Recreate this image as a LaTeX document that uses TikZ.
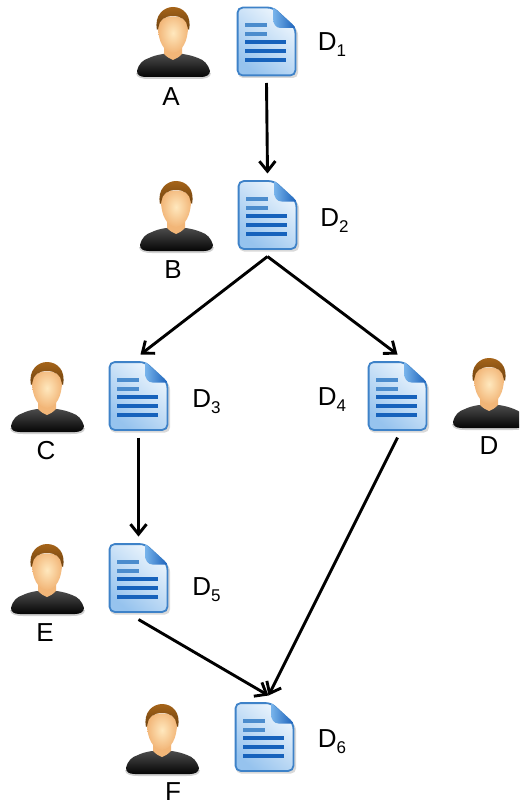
\documentclass[tikz,border=0pt]{standalone}
\usepackage{fontspec}
\setmainfont{Liberation Sans}
\usetikzlibrary{arrows.meta}
\definecolor{docedge}{RGB}{62,130,200}
\definecolor{docline}{RGB}{22,98,188}
\definecolor{docshort}{RGB}{75,140,205}
\definecolor{docpale}{RGB}{238,246,253}
\definecolor{docfill}{RGB}{150,195,238}
\definecolor{foldA}{RGB}{120,180,235}
\definecolor{foldB}{RGB}{25,95,185}
\definecolor{hairA}{RGB}{165,100,25}
\definecolor{hairB}{RGB}{110,65,15}
\definecolor{faceA}{RGB}{255,232,190}
\definecolor{faceB}{RGB}{242,182,120}
\definecolor{bodyA}{RGB}{75,75,75}
\definecolor{bodyB}{RGB}{5,5,5}
\tikzset{
  x=1pt,y=-1pt,
  docbox/.style={minimum width=59pt,minimum height=69pt,inner sep=0pt,outer ysep=7pt,outer xsep=0pt},
  flow/.style={line width=2.9pt,-{Straight Barb[length=10pt,width=16pt,line width=2.9pt]}},
  lab/.style={inner sep=0pt,font=\fontsize{26}{26}\selectfont},
  pics/docicon/.style={code={
    \fill[black,opacity=.15,rounded corners=5pt] (1,2) -- (36,2) -- (61,23) -- (61,71) -- (1,71) -- cycle;
    \shade[left color=docpale,right color=docfill,shading angle=-40,draw=docedge,line width=1.8pt,rounded corners=5pt]
      (0.6,0.6) -- (36,0.6) -- (58.4,21) -- (58.4,68.4) -- (0.6,68.4) -- cycle;
    \shade[left color=foldA,right color=foldB,rounded corners=1.5pt]
      (36,0) -- (59,21) -- (45,21) .. controls (39,21) and (36,17) .. (36,10) -- cycle;
    \fill[docshort] (8,16.5) rectangle (30,20);
    \fill[docshort] (8,25.5) rectangle (30,29);
    \fill[docline] (8,33.5) rectangle (49,37.5);
    \fill[docline] (8,42.5) rectangle (49,46.5);
    \fill[docline] (8,51) rectangle (49,55);
  }},
  pics/personicon/.style={code={
    \fill[black,opacity=.18] (-37,66) .. controls (-37,71) and (-30,72) .. (-24,72) -- (24,72) .. controls (32,72) and (38,71) .. (38,66) -- cycle;
    \shade[top color=bodyA,bottom color=bodyB]
      (-36,64) .. controls (-34,56) and (-30,53) .. (-24,51)
      .. controls (-20,49) and (-16,48) .. (-10,47) -- (10,47)
      .. controls (16,48) and (20,49) .. (25,51)
      .. controls (31,53) and (35,57) .. (37,64)
      .. controls (37,68) and (33,70) .. (28,70)
      -- (-27,70) .. controls (-33,70) and (-36,68) .. (-36,64) -- cycle;
    \fill[faceB] (-9,36) -- (9,36) -- (9,47) .. controls (6,50) and (3,52) .. (0,53) .. controls (-3,52) and (-6,50) .. (-9,47) -- cycle;
    \shade[inner color=faceA,outer color=faceB]
      (-15,20) .. controls (-15,34) and (-9,45.5) .. (0,46)
      .. controls (9,45.5) and (15,34) .. (15,20)
      .. controls (15,6) and (-15,6) .. (-15,20) -- cycle;
    \shade[top color=hairA,bottom color=hairB]
      (-16,23) .. controls (-19,8) and (-9,0) .. (0,0)
      .. controls (10,0) and (19,8) .. (16,23)
      .. controls (15,23) and (14.5,21) .. (14.5,20)
      .. controls (14,13) and (8,9) .. (0,9)
      .. controls (-8,9) and (-14,13) .. (-14.5,20)
      .. controls (-14.5,21) and (-15,23) .. (-16,23) -- cycle;
  }}
}
\newcommand{\subD}[1]{D\raisebox{-6pt}{\fontsize{17}{17}\selectfont #1}}
\begin{document}
\begin{tikzpicture}
\clip (0,0) rectangle (519,805);
\fill[white] (0,0) rectangle (519,805);

% documents
\node[docbox] (d1) at (266.5,41.5) {};
\node[docbox] (d2) at (267.5,215) {};
\node[docbox] (d3) at (138.5,396) {};
\node[docbox] (d4) at (397.5,396) {};
\node[docbox] (d5) at (138.5,578) {};
\node[docbox] (d6) at (264.5,737) {};
\pic at (237,7) {docicon};
\pic at (238,180.5) {docicon};
\pic at (109,361.5) {docicon};
\pic at (368,361.5) {docicon};
\pic at (109,543.5) {docicon};
\pic at (235,702.5) {docicon};

% people
\pic at (173,7) {personicon};
\pic at (176,181) {personicon};
\pic at (47,362) {personicon};
\pic at (489,358) {personicon};
\pic at (47,544) {personicon};
\pic at (162,704) {personicon};

% names
\node[lab] (la) at (171,97) {A};
\node[lab] (lb) at (173,270) {B};
\node[lab] (lc) at (46,451) {C};
\node[lab] (ld) at (489,446) {D};
\node[lab] (le) at (45,633) {E};
\node[lab] (lf) at (173,792) {F};

% document labels
\node[lab] (n1) at (332,45) {\subD{1}};
\node[lab] (n2) at (334.5,221) {\subD{2}};
\node[lab] (n3) at (206.5,402) {\subD{3}};
\node[lab] (n4) at (332,400) {\subD{4}};
\node[lab] (n5) at (206.5,590) {\subD{5}};
\node[lab] (n6) at (332,742) {\subD{6}};

% connectors
\draw[flow] (d1.south) -- (d2.north);
\draw[flow] (d2.south) -- ([xshift=2pt]d3.north);
\draw[flow] (d2.south) -- (d4.north);
\draw[flow] (d3.south) -- (d5.north);
\draw[flow] (d4.south) -- ([xshift=4pt]d6.north);
\draw[flow] (d5.south) -- ([xshift=4pt]d6.north);
\end{tikzpicture}
\end{document}
